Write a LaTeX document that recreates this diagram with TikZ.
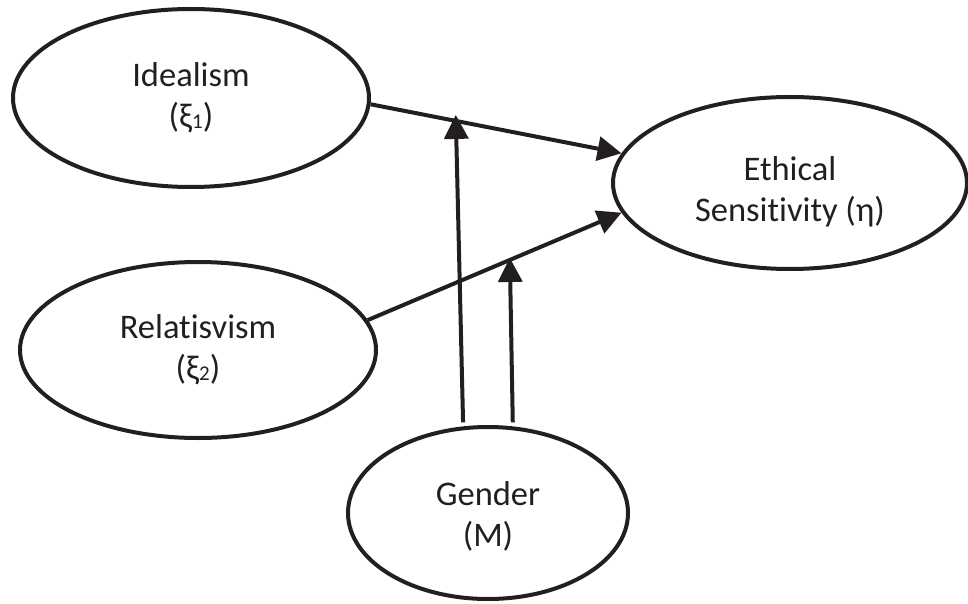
\documentclass[tikz,border=0pt]{standalone}
\usepackage{fontspec}
\setmainfont[Ligatures=NoCommon]{Carlito}
\usepackage{xcolor}
\usetikzlibrary{shapes.geometric, arrows.meta, positioning}
\definecolor{ModBlack}{RGB}{35,31,32}
\newcommand{\lsub}[1]{\raisebox{-1pt}{\fontsize{21}{21}\selectfont #1}}

\begin{document}
\begin{tikzpicture}[x=1pt, y=-1pt,
    latent/.style={ellipse, draw=ModBlack, line width=4pt, inner sep=0pt,
      align=center, text=ModBlack, font=\fontsize{34.5}{41}\selectfont},
    link/.style={-{Triangle[length=24pt,width=24pt]}, line width=4pt, ModBlack}]
  \useasboundingbox (0,0) rectangle (968,604);

  % Latent constructs
  \node[latent, minimum width=356pt, minimum height=178pt] (ide) at (191,98)
        {Idealism\\(ξ\lsub{1})};
  \node[latent, minimum width=356pt, minimum height=176pt] (rel) at (198,350)
        {Relatisvism\\(ξ\lsub{2})};
  \node[latent, minimum width=354pt, minimum height=172pt] (eth) at (790,183)
        {\rule{0pt}{41pt}Ethical\\Sensitivity (η)};
  \node[latent, minimum width=280pt, minimum height=172pt] (gen) at (488,513)
        {\rule{0pt}{31pt}Gender\\(M)};

  % Direct paths
  \draw[link] (ide.-2) -- (eth.170)
    coordinate[pos=0.34] (mod1);
  \draw[link] (rel.10) -- (eth.190)
    coordinate[pos=0.56] (mod2);

  % Moderation by gender
  \draw[link, shorten <=4pt, shorten >=-6pt] (gen.106) -- (mod1);
  \draw[link, shorten <=4pt, shorten >=-2pt] (gen.74) -- (mod2);
\end{tikzpicture}
\end{document}
